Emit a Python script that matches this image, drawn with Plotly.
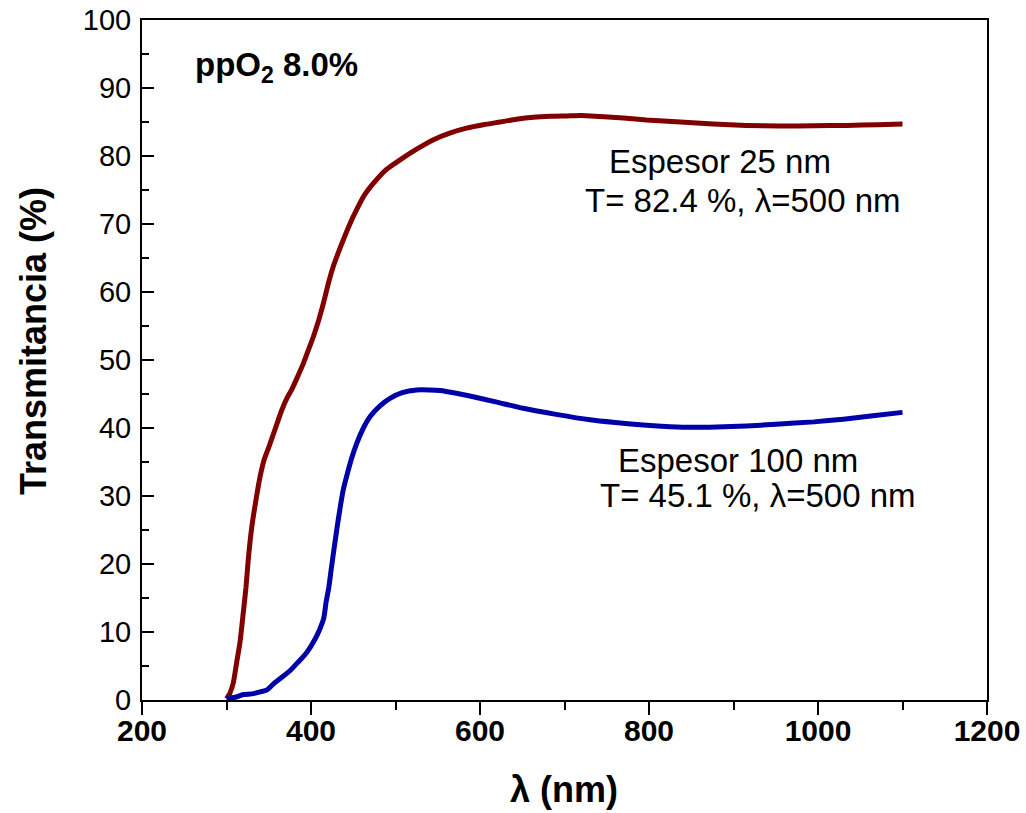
import plotly.graph_objects as go

# Data
wl_25 = [300, 304, 308, 312, 316, 320, 323, 326, 330, 335, 340, 345, 351, 358, 365, 372, 377,
         384, 391, 397, 403, 409, 415, 421, 427, 433, 438, 446, 454, 463, 474, 489, 505, 525,
         545, 565, 584, 604, 624, 643, 663, 683, 703, 720, 742, 770, 797, 837, 876, 915, 955,
         995, 1034, 1070, 1100]
T_25 = [0.2, 1.0, 2.5, 5.5, 8.5, 13.0, 16.5, 21.0, 25.5, 29.5, 33.0, 35.5, 37.5, 40.0, 42.5,
        44.5, 45.6, 47.5, 49.5, 51.5, 53.5, 55.8, 58.5, 61.5, 64.0, 66.0, 67.6, 70.0, 72.1,
        74.2, 76.0, 78.0, 79.4, 81.0, 82.4, 83.4, 84.1, 84.6, 85.0, 85.4, 85.7, 85.85, 85.9,
        85.95, 85.8, 85.6, 85.3, 85.0, 84.7, 84.5, 84.4, 84.45, 84.5, 84.6, 84.7]

wl_100 = [300, 310, 320, 330, 340, 348, 355, 365, 375, 385, 395, 405, 410, 415, 418, 421, 424,
          427, 431, 434, 438, 442, 448, 454, 462, 470, 482, 494, 508, 525, 540, 553, 572, 592,
          620, 651, 690, 730, 760, 797, 825, 850, 880, 915, 950, 995, 1030, 1065, 1100]
T_100 = [0.2, 0.4, 0.8, 0.9, 1.2, 1.5, 2.3, 3.3, 4.3, 5.6, 7.0, 9.0, 10.3, 12.0, 14.5, 16.5,
         19.3, 22.0, 25.5, 27.9, 30.8, 32.8, 35.5, 37.7, 40.0, 41.7, 43.3, 44.4, 45.2, 45.6,
         45.6, 45.5, 45.1, 44.6, 43.8, 42.9, 42.0, 41.2, 40.8, 40.4, 40.2, 40.1, 40.15, 40.3,
         40.55, 40.9, 41.3, 41.8, 42.3]

x_ticks = [200, 400, 600, 800, 1000, 1200]
y_ticks = [0, 10, 20, 30, 40, 50, 60, 70, 80, 90, 100]

FONT = "Liberation Sans, Arial, sans-serif"

fig = go.Figure()
fig.add_trace(go.Scatter(x=wl_25, y=T_25, mode="lines",
                         line=dict(color="#800000", width=5, shape="spline", smoothing=0.6),
                         showlegend=False))
fig.add_trace(go.Scatter(x=wl_100, y=T_100, mode="lines",
                         line=dict(color="#0000A8", width=5, shape="spline", smoothing=0.6),
                         showlegend=False))

L, R, T, B = 142, 39, 20, 113
W, H = 1026, 813
PW, PH = W - L - R, H - T - B

fig.update_layout(
    width=W, height=H,
    margin=dict(l=L, r=R, t=T, b=B, autoexpand=False),
    plot_bgcolor="white", paper_bgcolor="white",
    font=dict(family=FONT, color="black"),
)

fig.update_xaxes(
    range=[200, 1200], tickvals=x_ticks, ticktext=[str(v) for v in x_ticks],
    showline=True, linecolor="black", linewidth=2, mirror=True,
    ticks="outside", ticklen=13, tickwidth=2, tickcolor="black",
    minor=dict(ticks="outside", dtick=100, tick0=200, ticklen=8, tickwidth=2, tickcolor="black"),
    showgrid=False, zeroline=False, automargin=False,
    tickfont=dict(family=FONT, size=30, weight="bold"),
    ticklabelstandoff=-10,
)
fig.update_yaxes(
    range=[0, 100], tickvals=y_ticks, ticktext=[str(v) for v in y_ticks],
    showline=True, linecolor="black", linewidth=2, mirror=True,
    ticks="inside", ticklen=12, tickwidth=2, tickcolor="black",
    minor=dict(ticks="inside", dtick=5, tick0=0, ticklen=7, tickwidth=2, tickcolor="black"),
    showgrid=False, zeroline=False, automargin=False,
    tickfont=dict(family=FONT, size=29),
    ticklabelstandoff=3,
)

def px2x(px):
    return 200 + (px - L) / PW * 1000

def px2y(py):
    return (T + PH - py) / PH * 100

annots = [
    ("Espesor 25 nm", 720, 161, 33, "normal", "center"),
    ("T= 82.4 %, λ=500 nm", 903, 200, 33, "normal", "right"),
    ("Espesor 100 nm", 738, 460, 33, "normal", "center"),
    ("T= 45.1 %, λ=500 nm", 918, 495, 33, "normal", "right"),
    ("ppO<sub>2</sub> 8.0%", 276, 67, 33, "bold", "center"),
]
for text, px, py, size, w, anc in annots:
    fig.add_annotation(x=px2x(px), y=px2y(py), xref="x", yref="y", text=text,
                       showarrow=False, xanchor=anc, yanchor="middle",
                       font=dict(family=FONT, size=size, color="black", weight=w))

# Axis titles
fig.add_annotation(x=(33 - L) / PW, y=(T + PH - 341) / PH, xref="paper", yref="paper",
                   text="Transmitancia (%)", textangle=-90, showarrow=False,
                   xanchor="center", yanchor="middle",
                   font=dict(family=FONT, size=36, weight="bold"))
fig.add_annotation(x=(564 - L) / PW, y=(T + PH - 789) / PH, xref="paper", yref="paper",
                   text="λ (nm)", showarrow=False, xanchor="center", yanchor="middle",
                   font=dict(family=FONT, size=36, weight="bold"))

fig.write_html("out.html")
